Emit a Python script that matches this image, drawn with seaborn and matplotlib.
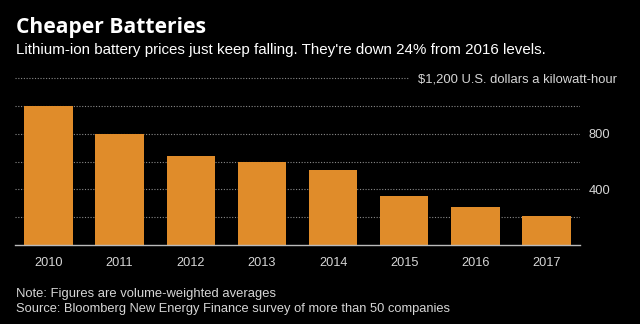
import matplotlib
matplotlib.use("Agg")
import matplotlib.pyplot as plt
import seaborn as sns
import pandas as pd

years = ["2010", "2011", "2012", "2013", "2014", "2015", "2016", "2017"]
prices = [1000, 800, 642, 599, 540, 350, 273, 209]
ytick_vals = [200, 400, 600, 800, 1000]
ytick_labels = ["", "400", "", "800", ""]

title = "Cheaper Batteries"
subtitle = "Lithium-ion battery prices just keep falling. They're down 24% from 2016 levels."
unit_label = "$1,200 U.S. dollars a kilowatt-hour"
note = "Note: Figures are volume-weighted averages"
source = "Source: Bloomberg New Energy Finance survey of more than 50 companies"

sns.set_style("dark")
plt.rcParams["font.family"] = ["Liberation Sans", "DejaVu Sans"]

W, H = 640, 324
df = pd.DataFrame({"year": years, "price": prices})

fig = plt.figure(figsize=(6.4, 3.24), dpi=100, facecolor="black")
ax = fig.add_axes([15/W, 1-245/H, 565/W, (245-78)/H])
ax.set_facecolor("black")

sns.barplot(data=df, x="year", y="price", color="#E08C2A", saturation=1,
            width=0.68, ax=ax, zorder=3, linewidth=0, edgecolor="none")

ax.set_xlim(-0.47, 7.47)
ax.set_ylim(0, 1200)
ax.set_yticks(ytick_vals)
ax.set_yticklabels(ytick_labels)
ax.yaxis.tick_right()
ax.tick_params(axis="y", length=0, pad=6, labelsize=9.3, labelcolor="#d6d6d6")
ax.tick_params(axis="x", length=3, width=0.8, color="#aaaaaa", pad=7,
               labelsize=9.2, labelcolor="#d6d6d6", direction="inout")
ax.grid(axis="y", color="#8a8a8a", linestyle=(0, (1, 1.5)), linewidth=0.8, zorder=1)
ax.grid(axis="x", visible=False)
ax.set_xlabel("")
ax.set_ylabel("")
for s in ["top", "right", "left"]:
    ax.spines[s].set_visible(False)
ax.spines["bottom"].set_color("#bbbbbb")
ax.spines["bottom"].set_linewidth(1)
ax.spines["bottom"].set_zorder(4)

ax.axhline(1200, xmin=0, xmax=(408-15)/565, color="#8a8a8a",
           linestyle=(0, (1, 1.5)), linewidth=0.8, clip_on=False)

texts = []
def add(x, y_base, s, width, **kw):
    t = fig.text(x/W, 1-y_base/H, s, va="baseline", ha="left", fontsize=10, **kw)
    texts.append((t, width))
    return t

add(16, 33.3, title, 190, color="white", fontweight="bold",
    family=["Open Sans", "Liberation Sans", "DejaVu Sans"])
add(16, 54, subtitle, 531, color="white")
add(418, 83, unit_label, 200, color="#d6d6d6")
add(16, 296.7, note, 261.5, color="#d6d6d6")
add(16, 311.7, source, 437, color="#d6d6d6")

fig.canvas.draw()
r = fig.canvas.get_renderer()
for t, w in texts:
    cur = t.get_window_extent(r).width
    t.set_fontsize(10 * w / cur)

fig.savefig("out.png", dpi=100, facecolor="black")
